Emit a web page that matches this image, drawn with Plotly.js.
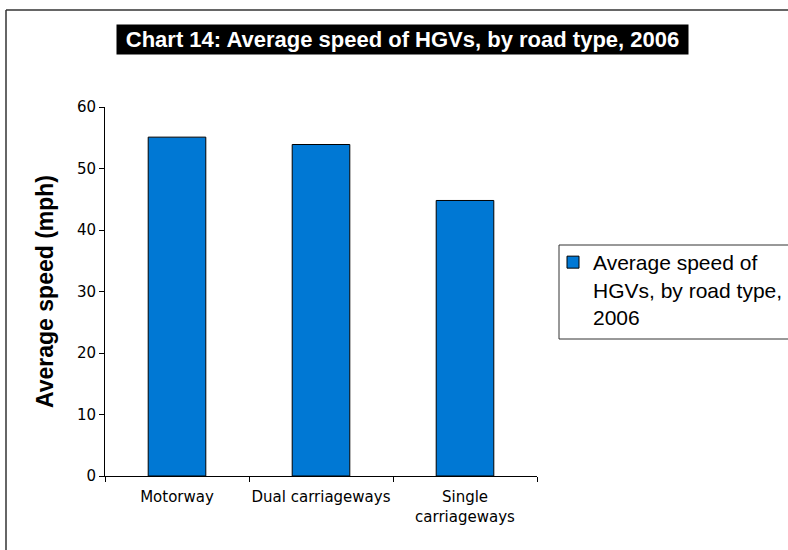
<!DOCTYPE html>
<html>
<head>
<meta charset="utf-8">
<script src="https://cdn.plot.ly/plotly-3.0.1.min.js"></script>
<style>
  html, body { margin: 0; padding: 0; background: #fff; }
  #chart { width: 788px; height: 550px; }
</style>
</head>
<body>
<div id="chart"></div>
<script>
// Data
var categories = ["Motorway", "Dual carriageways", "Single<br>carriageways"];
var speeds = [55.1, 53.9, 44.8];
var seriesName = "Average speed of<br>HGVs, by road type,<br>2006";
var chartTitle = "Chart 14: Average speed of HGVs, by road type, 2006";
var yTitle = "Average speed (mph)";
var yTicks = [0, 10, 20, 30, 40, 50, 60];

var trace = {
  type: "bar",
  x: categories,
  y: speeds,
  name: seriesName,
  width: 0.40,
  marker: { color: "#0078D4", line: { color: "#000000", width: 1 } },
  hoverinfo: "x+y"
};

var L = 105, R = 537, T = 107, B = 476;
function px2x(p) { return (p - L) / (R - L); }
function px2y(p) { return (B - p) / (B - T); }

var layout = {
  width: 788,
  height: 550,
  margin: { l: L, r: 788 - R, t: T, b: 550 - B, pad: 0, autoexpand: false },
  paper_bgcolor: "#ffffff",
  plot_bgcolor: "#ffffff",
  showlegend: true,
  bargap: 0.6,
  xaxis: {
    type: "category",
    range: [-0.5, 2.5],
    showline: true,
    linecolor: "#000000",
    linewidth: 1,
    ticks: "outside",
    tickson: "boundaries",
    ticklen: 5,
    tickcolor: "#000000",
    tickangle: 0,
    automargin: false,
    showgrid: false,
    zeroline: false,
    ticklabelstandoff: 7,
    tickfont: { family: "DejaVu Sans", size: 15, color: "#000000" }
  },
  yaxis: {
    range: [0, 60],
    tickvals: yTicks,
    ticktext: yTicks.map(String),
    showline: true,
    linecolor: "#000000",
    linewidth: 1,
    ticks: "outside",
    ticklen: 5,
    tickcolor: "#000000",
    showgrid: false,
    zeroline: false,
    automargin: false,
    tickfont: { family: "DejaVu Sans", size: 15, color: "#000000" },
    title: {
      text: yTitle,
      standoff: 16,
      font: { family: "Liberation Sans", size: 23, color: "#000000", weight: "bold" }
    }
  },
  legend: {
    x: px2x(553),
    y: px2y(242),
    xanchor: "left",
    yanchor: "top",
    valign: "top",
    bgcolor: "rgba(0,0,0,0)",
    borderwidth: 0,
    font: { family: "Liberation Sans", size: 21, color: "#000000" }
  },
  annotations: [
    {
      text: chartTitle,
      xref: "paper", yref: "paper",
      x: px2x(402.5), y: px2y(39.5),
      xanchor: "center", yanchor: "middle",
      showarrow: false,
      bgcolor: "#000000",
      width: 569, height: 27,
      borderpad: 1,
      font: { family: "Liberation Sans", size: 22, color: "#ffffff", weight: "bold" }
    }
  ],
  shapes: [
    // outer chart frame (left and top edges visible)
    { type: "line", xref: "paper", yref: "paper",
      x0: px2x(6), x1: px2x(6), y0: px2y(10), y1: px2y(600),
      line: { color: "#333333", width: 1.5 } },
    { type: "line", xref: "paper", yref: "paper",
      x0: px2x(6), x1: px2x(800), y0: px2y(10), y1: px2y(10),
      line: { color: "#333333", width: 1.5 } },
    // legend frame
    { type: "rect", xref: "paper", yref: "paper", layer: "below",
      x0: px2x(559), x1: px2x(800), y0: px2y(245), y1: px2y(339),
      line: { color: "#333333", width: 1 }, fillcolor: "rgba(0,0,0,0)" }
  ]
};

Plotly.newPlot("chart", [trace], layout, { displayModeBar: false, staticPlot: true });
</script>
</body>
</html>
